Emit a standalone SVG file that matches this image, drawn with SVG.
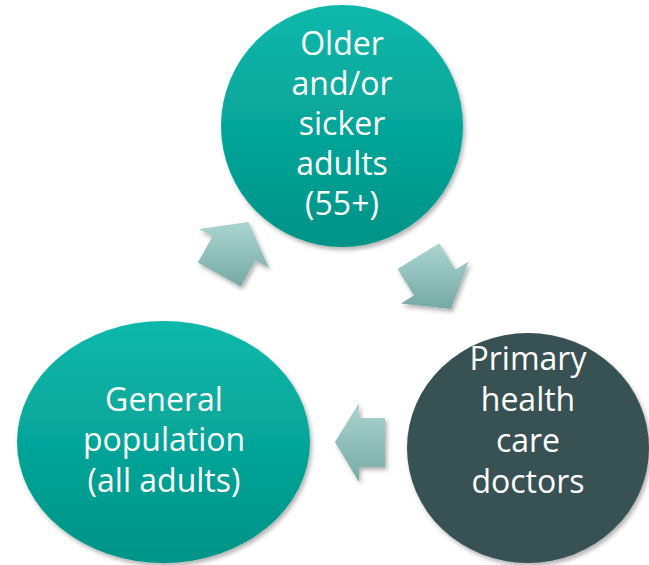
<svg xmlns="http://www.w3.org/2000/svg" width="649" height="565" viewBox="0 0 649 565">
  <defs>
    <linearGradient id="tealGrad" x1="0" y1="0" x2="0" y2="1">
      <stop offset="0" stop-color="#0cb8ab"/>
      <stop offset="1" stop-color="#009387"/>
    </linearGradient>
    <linearGradient id="arrowGrad" x1="0" y1="0" x2="0" y2="1">
      <stop offset="0" stop-color="#abd5d1"/>
      <stop offset="1" stop-color="#76a9a4"/>
    </linearGradient>
    <filter id="shadow" x="-20%" y="-20%" width="140%" height="140%">
      <feDropShadow dx="2" dy="3" stdDeviation="2" flood-color="#000" flood-opacity="0.3"/>
    </filter>
  </defs>
  <style>
    .teal { fill: url(#tealGrad); filter: url(#shadow); }
    .dark { fill: #385152; filter: url(#shadow); }
    .arrow { fill: url(#arrowGrad); filter: url(#shadow); }
    .lbl { font-family: "Open Sans", "Liberation Sans", sans-serif; font-size: 32px; fill: #ffffff; text-anchor: middle; }
  </style>
  <rect width="649" height="565" fill="#ffffff"/>
  <g id="connectors">
    <polygon class="arrow" points="248.4,222.1 268.8,267.7 255.2,260.2 240.7,286.4 197.9,262.6 212.4,236.4 198.8,228.9"/>
    <polygon class="arrow" points="451.0,308.9 400.7,303.5 413.9,295.4 397.6,269.0 439.2,243.2 455.5,269.6 468.7,261.5"/>
    <polygon class="arrow" points="335,442 359,403 359,418 385,418 385,467 359,467 359,482"/>
  </g>
  <g id="node-older">
    <circle class="teal" cx="342" cy="126" r="121"/>
    <text class="lbl" x="342" y="55">Older</text>
    <text class="lbl" x="342" y="95">and/or</text>
    <text class="lbl" x="342" y="135">sicker</text>
    <text class="lbl" x="342" y="175">adults</text>
    <text class="lbl" x="342" y="215">(55+)</text>
  </g>
  <g id="node-doctors">
    <ellipse class="dark" cx="528" cy="448" rx="121" ry="115"/>
    <text class="lbl" x="528" y="370">Primary</text>
    <text class="lbl" x="528" y="411">health</text>
    <text class="lbl" x="528" y="452">care</text>
    <text class="lbl" x="528" y="493">doctors</text>
  </g>
  <g id="node-general">
    <ellipse class="teal" cx="163.5" cy="442" rx="146.5" ry="121"/>
    <text class="lbl" x="164" y="411">General</text>
    <text class="lbl" x="164" y="451">population</text>
    <text class="lbl" x="164" y="492">(all adults)</text>
  </g>
</svg>
